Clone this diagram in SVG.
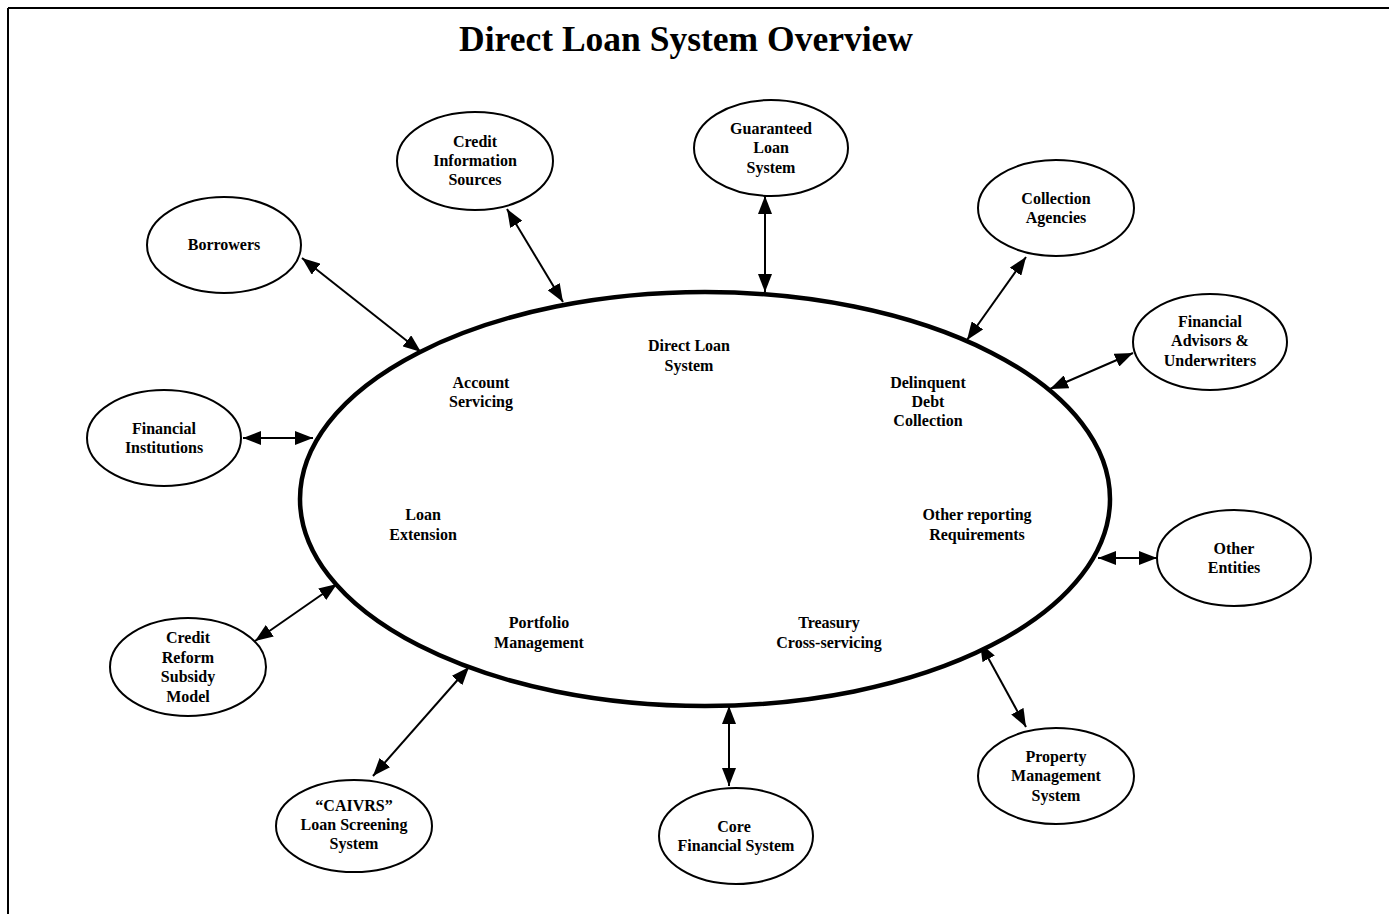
<svg xmlns="http://www.w3.org/2000/svg" width="1389" height="914" viewBox="0 0 1389 914">
<style>
.node{fill:#fff;stroke:#000;stroke-width:2}
.main{fill:#fff;stroke:#000;stroke-width:4.5}
.t{font-family:"Liberation Serif","Times New Roman",serif;font-weight:bold;font-size:16px;text-anchor:middle;fill:#000}
.title{font-family:"Liberation Serif","Times New Roman",serif;font-weight:bold;font-size:35.5px;text-anchor:middle;fill:#000}
.c{stroke:#000;stroke-width:2;fill:none;marker-start:url(#ah);marker-end:url(#ah)}
</style>
<defs>
<marker id="ah" markerUnits="userSpaceOnUse" markerWidth="18" markerHeight="14" refX="18" refY="7" orient="auto-start-reverse">
<path d="M0,0 L18,7 L0,14 z" fill="#000"/>
</marker>
</defs>
<rect width="1389" height="914" fill="#fff"/>
<g id="border" stroke="#000" stroke-width="2">
<line x1="8" y1="8" x2="1389" y2="8"/>
<line x1="8" y1="8" x2="8" y2="914"/>
</g>
<text class="title" x="686" y="51">Direct Loan System Overview</text>

<g id="connectors">
<line class="c" x1="302" y1="258" x2="421" y2="352"/>
<line class="c" x1="507" y1="209" x2="563" y2="302"/>
<line class="c" x1="765" y1="196" x2="765" y2="292"/>
<line class="c" x1="1026" y1="257" x2="967" y2="340"/>
<line class="c" x1="1133" y1="353" x2="1050" y2="389"/>
<line class="c" x1="243" y1="438" x2="313" y2="438"/>
<line class="c" x1="1098" y1="558" x2="1157" y2="558"/>
<line class="c" x1="255" y1="641" x2="337" y2="584"/>
<line class="c" x1="373" y1="776" x2="469" y2="667"/>
<line class="c" x1="729" y1="706" x2="729" y2="786"/>
<line class="c" x1="980" y1="643" x2="1026" y2="727"/>
</g>

<g id="direct-loan-system">
<ellipse class="main" cx="705" cy="499" rx="405" ry="207"/>
<text class="t" x="689" y="351">Direct Loan</text>
<text class="t" x="689" y="371">System</text>
<text class="t" x="481" y="388">Account</text>
<text class="t" x="481" y="407">Servicing</text>
<text class="t" x="928" y="388">Delinquent</text>
<text class="t" x="928" y="407">Debt</text>
<text class="t" x="928" y="426">Collection</text>
<text class="t" x="423" y="520">Loan</text>
<text class="t" x="423" y="540">Extension</text>
<text class="t" x="977" y="520">Other reporting</text>
<text class="t" x="977" y="540">Requirements</text>
<text class="t" x="539" y="628">Portfolio</text>
<text class="t" x="539" y="648">Management</text>
<text class="t" x="829" y="628">Treasury</text>
<text class="t" x="829" y="648">Cross-servicing</text>
</g>

<g id="credit-information-sources">
<ellipse class="node" cx="475" cy="161" rx="78" ry="49"/>
<text class="t" x="475" y="147">Credit</text>
<text class="t" x="475" y="166">Information</text>
<text class="t" x="475" y="185">Sources</text>
</g>
<g id="guaranteed-loan-system">
<ellipse class="node" cx="771" cy="148" rx="77" ry="48"/>
<text class="t" x="771" y="134">Guaranteed</text>
<text class="t" x="771" y="153">Loan</text>
<text class="t" x="771" y="173">System</text>
</g>
<g id="collection-agencies">
<ellipse class="node" cx="1056" cy="208" rx="78" ry="48"/>
<text class="t" x="1056" y="204">Collection</text>
<text class="t" x="1056" y="223">Agencies</text>
</g>
<g id="borrowers">
<ellipse class="node" cx="224" cy="245" rx="77" ry="48"/>
<text class="t" x="224" y="250">Borrowers</text>
</g>
<g id="financial-advisors">
<ellipse class="node" cx="1210" cy="342" rx="77" ry="48"/>
<text class="t" x="1210" y="327">Financial</text>
<text class="t" x="1210" y="346">Advisors &amp;</text>
<text class="t" x="1210" y="366">Underwriters</text>
</g>
<g id="financial-institutions">
<ellipse class="node" cx="164" cy="438" rx="77" ry="48"/>
<text class="t" x="164" y="434">Financial</text>
<text class="t" x="164" y="453">Institutions</text>
</g>
<g id="other-entities">
<ellipse class="node" cx="1234" cy="558" rx="77" ry="48"/>
<text class="t" x="1234" y="554">Other</text>
<text class="t" x="1234" y="573">Entities</text>
</g>
<g id="credit-reform-subsidy-model">
<ellipse class="node" cx="188" cy="667" rx="78" ry="49"/>
<text class="t" x="188" y="643">Credit</text>
<text class="t" x="188" y="663">Reform</text>
<text class="t" x="188" y="682">Subsidy</text>
<text class="t" x="188" y="702">Model</text>
</g>
<g id="property-management-system">
<ellipse class="node" cx="1056" cy="776" rx="78" ry="48"/>
<text class="t" x="1056" y="762">Property</text>
<text class="t" x="1056" y="781">Management</text>
<text class="t" x="1056" y="801">System</text>
</g>
<g id="caivrs">
<ellipse class="node" cx="354" cy="826" rx="78" ry="46"/>
<text class="t" x="354" y="811">“CAIVRS”</text>
<text class="t" x="354" y="830">Loan Screening</text>
<text class="t" x="354" y="849">System</text>
</g>
<g id="core-financial-system">
<ellipse class="node" cx="736" cy="836" rx="77" ry="48"/>
<text class="t" x="734" y="832">Core</text>
<text class="t" x="736" y="851">Financial System</text>
</g>
</svg>
